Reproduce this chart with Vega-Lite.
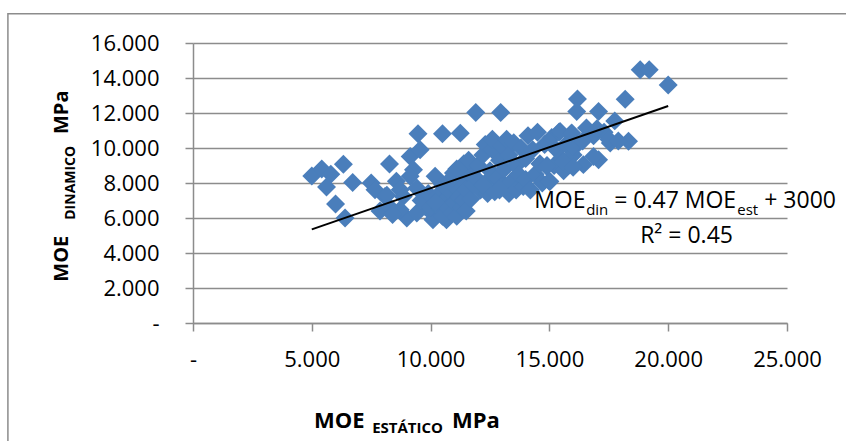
{
  "$schema": "https://vega.github.io/schema/vega-lite/v6.json",
  "width": 594,
  "height": 280,
  "autosize": {"type": "none"},
  "padding": {"left": 193, "top": 43, "right": 59, "bottom": 118},
  "background": "white",
  "config": {
    "view": {"stroke": null},
    "font": "Open Sans",
    "axis": {
      "title": null,
      "labelFont": "Open Sans", "labelFontSize": 22, "labelColor": "#000000",
      "labelOverlap": false, "labelFlush": false, "labelBound": false,
      "tickSize": 8, "tickColor": "#8c8c8c", "tickWidth": 1.5,
      "domainColor": "#8c8c8c", "domainWidth": 1.5,
      "gridColor": "#8c8c8c", "gridWidth": 1.5
    },
    "axisX": {"grid": false, "labelPadding": 18},
    "axisY": {"grid": true, "labelPadding": 26}
  },
  "datasets": {
    "points": [
      {"est": 5000, "din": 8400}, {"est": 5420, "din": 8800}, {"est": 5800, "din": 8500}, {"est": 5620, "din": 7770},
      {"est": 6000, "din": 6800}, {"est": 6330, "din": 9070}, {"est": 6400, "din": 6000}, {"est": 6720, "din": 8030},
      {"est": 7500, "din": 8000}, {"est": 7660, "din": 7620}, {"est": 7870, "din": 6400}, {"est": 8270, "din": 9090},
      {"est": 8080, "din": 7230}, {"est": 8560, "din": 8100}, {"est": 8300, "din": 6600}, {"est": 8720, "din": 7620},
      {"est": 9000, "din": 6000}, {"est": 9140, "din": 9520}, {"est": 9470, "din": 10820}, {"est": 9560, "din": 9900},
      {"est": 9280, "din": 8760}, {"est": 8850, "din": 7230}, {"est": 9420, "din": 7710}, {"est": 9770, "din": 6660},
      {"est": 10050, "din": 6290}, {"est": 10190, "din": 8380}, {"est": 10100, "din": 5900}, {"est": 10500, "din": 10820},
      {"est": 10670, "din": 5900}, {"est": 10400, "din": 7050}, {"est": 10960, "din": 8570}, {"est": 11250, "din": 10850},
      {"est": 11900, "din": 12030}, {"est": 12950, "din": 12030}, {"est": 9140, "din": 8380}, {"est": 8720, "din": 6470},
      {"est": 9420, "din": 6290}, {"est": 8400, "din": 6200}, {"est": 8160, "din": 7300},
      {"est": 9600, "din": 7000}, {"est": 9900, "din": 7400}, {"est": 10000, "din": 6600}, {"est": 10300, "din": 7300},
      {"est": 10400, "din": 6500}, {"est": 10500, "din": 6100}, {"est": 10600, "din": 7000}, {"est": 10700, "din": 6600},
      {"est": 10800, "din": 7500}, {"est": 10900, "din": 6300}, {"est": 11000, "din": 6900}, {"est": 11000, "din": 7800},
      {"est": 11100, "din": 6100}, {"est": 11200, "din": 7200}, {"est": 11300, "din": 6600}, {"est": 11300, "din": 8200},
      {"est": 11400, "din": 7000}, {"est": 11500, "din": 7600}, {"est": 11500, "din": 6400}, {"est": 11600, "din": 8600},
      {"est": 11700, "din": 7100}, {"est": 11800, "din": 7900}, {"est": 10900, "din": 8300}, {"est": 11100, "din": 8800},
      {"est": 11400, "din": 9100}, {"est": 11600, "din": 9300}, {"est": 10500, "din": 7900}, {"est": 10200, "din": 6900},
      {"est": 11900, "din": 8300}, {"est": 12000, "din": 9000}, {"est": 12100, "din": 7600}, {"est": 12200, "din": 9600},
      {"est": 12300, "din": 8000}, {"est": 12300, "din": 10200}, {"est": 12400, "din": 7400}, {"est": 12500, "din": 8700},
      {"est": 12600, "din": 9900}, {"est": 12600, "din": 10500}, {"est": 12700, "din": 7500}, {"est": 12800, "din": 8300},
      {"est": 12900, "din": 9300}, {"est": 13000, "din": 10100}, {"est": 13000, "din": 7800}, {"est": 13100, "din": 8800},
      {"est": 13200, "din": 10500}, {"est": 13300, "din": 9600}, {"est": 13300, "din": 7400}, {"est": 13400, "din": 8100},
      {"est": 13500, "din": 10300}, {"est": 13600, "din": 9000}, {"est": 13600, "din": 7600}, {"est": 13700, "din": 8500},
      {"est": 13800, "din": 10000}, {"est": 13900, "din": 7800}, {"est": 14000, "din": 9400}, {"est": 14000, "din": 8200},
      {"est": 12200, "din": 7900}, {"est": 12900, "din": 7600},
      {"est": 14100, "din": 10700}, {"est": 14200, "din": 7600}, {"est": 14300, "din": 9900}, {"est": 14400, "din": 8500},
      {"est": 14500, "din": 10900}, {"est": 14600, "din": 9100}, {"est": 14700, "din": 8000}, {"est": 14800, "din": 10200},
      {"est": 14900, "din": 9000}, {"est": 15000, "din": 8100}, {"est": 15100, "din": 10600}, {"est": 15200, "din": 9000},
      {"est": 15300, "din": 9900}, {"est": 15400, "din": 10900}, {"est": 15500, "din": 9400}, {"est": 15600, "din": 8700},
      {"est": 15700, "din": 10200}, {"est": 15800, "din": 9000}, {"est": 15900, "din": 10800}, {"est": 16000, "din": 9600},
      {"est": 16100, "din": 10100},
      {"est": 16180, "din": 12800}, {"est": 16150, "din": 12090}, {"est": 17070, "din": 12090}, {"est": 18190, "din": 12780},
      {"est": 18820, "din": 14470}, {"est": 19200, "din": 14470}, {"est": 20000, "din": 13600}, {"est": 17750, "din": 11550},
      {"est": 18330, "din": 10380}, {"est": 16560, "din": 11140}, {"est": 15450, "din": 10950}, {"est": 15940, "din": 10860},
      {"est": 16860, "din": 10700}, {"est": 17560, "din": 10290}, {"est": 16000, "din": 10100}, {"est": 17070, "din": 9330},
      {"est": 16430, "din": 9050}, {"est": 15590, "din": 9230}, {"est": 14880, "din": 8950}, {"est": 15020, "din": 8090},
      {"est": 16860, "din": 9520}, {"est": 17300, "din": 10900}, {"est": 17000, "din": 11100}, {"est": 17500, "din": 10500},
      {"est": 16400, "din": 10400}, {"est": 17900, "din": 10400}, {"est": 16000, "din": 8900}
    ],
    "trend": [
      {"est": 5000, "din": 5350},
      {"est": 20000, "din": 12400}
    ],
    "one": [{}]
  },
  "layer": [
    {
      "data": {"name": "points"},
      "mark": {"type": "point", "shape": "diamond", "filled": true, "size": 360, "color": "#4A7EBB", "opacity": 1},
      "encoding": {
        "x": {"field": "est", "type": "quantitative",
          "scale": {"domain": [0, 25000], "nice": false, "zero": false},
          "axis": {"title": null, "grid": false, "values": [0, 5000, 10000, 15000, 20000, 25000], "labelExpr": "datum.value == 0 ? '-' : replace(format(datum.value, ',.0f'), ',', '.')"}},
        "y": {"field": "din", "type": "quantitative",
          "scale": {"domain": [0, 16000], "nice": false, "zero": false},
          "axis": {"title": null, "grid": true, "values": [0, 2000, 4000, 6000, 8000, 10000, 12000, 14000, 16000], "labelExpr": "datum.value == 0 ? '-' : replace(format(datum.value, ',.0f'), ',', '.')"}}
      }
    },
    {
      "data": {"name": "one"},
      "mark": {"type": "rect", "fill": null, "stroke": "#8c8c8c", "strokeWidth": 1.5},
      "encoding": {
        "x": {"datum": -7790, "type": "quantitative",
          "scale": {"domain": [0, 25000], "nice": false, "zero": false},
          "axis": {"title": null, "grid": false, "values": [0, 5000, 10000, 15000, 20000, 25000], "labelExpr": "datum.value == 0 ? '-' : replace(format(datum.value, ',.0f'), ',', '.')"}},
        "x2": {"datum": 28100},
        "y": {"datum": 17670, "type": "quantitative",
          "scale": {"domain": [0, 16000], "nice": false, "zero": false},
          "axis": {"title": null, "grid": true, "values": [0, 2000, 4000, 6000, 8000, 10000, 12000, 14000, 16000], "labelExpr": "datum.value == 0 ? '-' : replace(format(datum.value, ',.0f'), ',', '.')"}},
        "y2": {"datum": -7900}
      }
    },
    {
      "data": {"name": "trend"},
      "mark": {"type": "line", "color": "#000000", "strokeWidth": 2},
      "encoding": {
        "x": {"field": "est", "type": "quantitative",
          "scale": {"domain": [0, 25000], "nice": false, "zero": false},
          "axis": {"title": null, "grid": false, "values": [0, 5000, 10000, 15000, 20000, 25000], "labelExpr": "datum.value == 0 ? '-' : replace(format(datum.value, ',.0f'), ',', '.')"}},
        "y": {"field": "din", "type": "quantitative",
          "scale": {"domain": [0, 16000], "nice": false, "zero": false},
          "axis": {"title": null, "grid": true, "values": [0, 2000, 4000, 6000, 8000, 10000, 12000, 14000, 16000], "labelExpr": "datum.value == 0 ? '-' : replace(format(datum.value, ',.0f'), ',', '.')"}}
      }
    },
    {
      "data": {"name": "one"},
      "layer": [
        {"mark": {"type": "text", "text": "MOE", "font": "Open Sans", "fontSize": 23, "align": "left", "baseline": "alphabetic", "color": "#000000"},
         "encoding": {"x": {"datum": 14358}, "y": {"datum": 6590}}},
        {"mark": {"type": "text", "text": "din", "font": "Open Sans", "fontSize": 15, "align": "left", "baseline": "alphabetic", "color": "#000000"},
         "encoding": {"x": {"datum": 16547}, "y": {"datum": 6190}}},
        {"mark": {"type": "text", "text": "= 0.47 MOE", "font": "Open Sans", "fontSize": 23, "align": "left", "baseline": "alphabetic", "color": "#000000"},
         "encoding": {"x": {"datum": 17726}, "y": {"datum": 6590}}},
        {"mark": {"type": "text", "text": "est", "font": "Open Sans", "fontSize": 15, "align": "left", "baseline": "alphabetic", "color": "#000000"},
         "encoding": {"x": {"datum": 22905}, "y": {"datum": 6190}}},
        {"mark": {"type": "text", "text": "+ 3000", "font": "Open Sans", "fontSize": 23, "align": "left", "baseline": "alphabetic", "color": "#000000"},
         "encoding": {"x": {"datum": 24042}, "y": {"datum": 6590}}},
        {"mark": {"type": "text", "text": "R² = 0.45", "font": "Open Sans", "fontSize": 23, "align": "left", "baseline": "alphabetic", "color": "#000000"},
         "encoding": {"x": {"datum": 18820}, "y": {"datum": 4590}}},
        {"mark": {"type": "text", "text": "MOE", "font": "Open Sans", "fontWeight": "bold", "fontSize": 22, "align": "left", "baseline": "alphabetic", "color": "#000000"},
         "encoding": {"x": {"datum": 5095}, "y": {"datum": -5980}}},
        {"mark": {"type": "text", "text": "ESTÁTICO", "font": "Open Sans", "fontWeight": "bold", "fontSize": 15, "align": "left", "baseline": "alphabetic", "color": "#000000"},
         "encoding": {"x": {"datum": 7540}, "y": {"datum": -6270}}},
        {"mark": {"type": "text", "text": "MPa", "font": "Open Sans", "fontWeight": "bold", "fontSize": 22, "align": "left", "baseline": "alphabetic", "color": "#000000"},
         "encoding": {"x": {"datum": 10900}, "y": {"datum": -5980}}},
        {"mark": {"type": "text", "text": "MOE", "font": "Open Sans", "fontWeight": "bold", "fontSize": 20, "align": "left", "baseline": "alphabetic", "angle": 270, "color": "#000000"},
         "encoding": {"x": {"datum": -5263}, "y": {"datum": 2360}}},
        {"mark": {"type": "text", "text": "DINAMICO", "font": "Open Sans", "fontWeight": "bold", "fontSize": 14, "align": "left", "baseline": "alphabetic", "angle": 270, "color": "#000000"},
         "encoding": {"x": {"datum": -4968}, "y": {"datum": 5900}}},
        {"mark": {"type": "text", "text": "MPa", "font": "Open Sans", "fontWeight": "bold", "fontSize": 20, "align": "left", "baseline": "alphabetic", "angle": 270, "color": "#000000"},
         "encoding": {"x": {"datum": -5263}, "y": {"datum": 10800}}}
      ],
      "encoding": {
        "x": {"type": "quantitative",
          "scale": {"domain": [0, 25000], "nice": false, "zero": false},
          "axis": {"title": null, "grid": false, "values": [0, 5000, 10000, 15000, 20000, 25000], "labelExpr": "datum.value == 0 ? '-' : replace(format(datum.value, ',.0f'), ',', '.')"}},
        "y": {"type": "quantitative",
          "scale": {"domain": [0, 16000], "nice": false, "zero": false},
          "axis": {"title": null, "grid": true, "values": [0, 2000, 4000, 6000, 8000, 10000, 12000, 14000, 16000], "labelExpr": "datum.value == 0 ? '-' : replace(format(datum.value, ',.0f'), ',', '.')"}}
      }
    }
  ]
}
